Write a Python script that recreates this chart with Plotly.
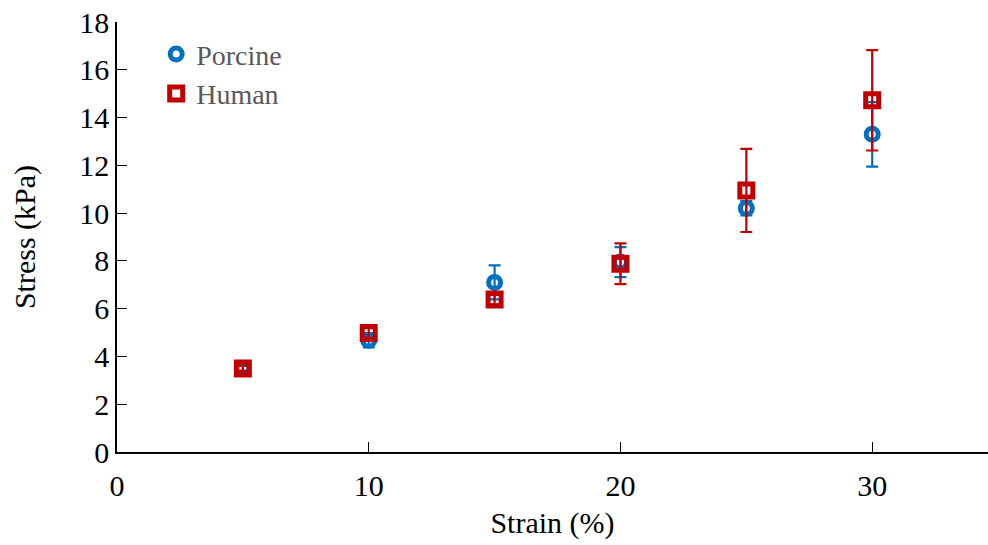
import plotly.graph_objects as go

strain = [5, 10, 15, 20, 25, 30]
porcine = [3.5, 4.68, 7.1, 7.95, 10.2, 13.3]
porcine_err = [0.1, 0.3, 0.71, 0.63, 0.3, 1.35]
human = [3.5, 4.98, 6.38, 7.88, 10.95, 14.72]
human_err = [0.1, 0.2, 0.2, 0.85, 1.74, 2.1]

BLUE = "#0070C0"
RED = "#C00000"
FONT = "'Liberation Serif', 'Times New Roman', Times, serif"
FS = 30

fig = go.Figure()
fig.add_trace(go.Scatter(
    x=strain, y=porcine, mode="markers", name="Porcine",
    marker=dict(symbol="circle-open", size=12, color=BLUE, line=dict(width=5, color=BLUE)),
    error_y=dict(type="data", array=porcine_err, visible=True, color=BLUE, thickness=2.2, width=6),
))
fig.add_trace(go.Scatter(
    x=strain, y=human, mode="markers", name="Human",
    marker=dict(symbol="square-open", size=13, color=RED, line=dict(width=5, color=RED)),
    error_y=dict(type="data", array=human_err, visible=True, color=RED, thickness=2.2, width=6),
))

fig.update_layout(
    width=988, height=545,
    margin=dict(l=117, r=0, t=22, b=93),
    plot_bgcolor="white", paper_bgcolor="white",
    font=dict(family=FONT, size=FS, color="#000000"),
    showlegend=True,
    legend=dict(x=0.045, y=0.983, xanchor="left", yanchor="top",
                font=dict(family=FONT, size=28, color="#595959"),
                bgcolor="rgba(0,0,0,0)", itemwidth=30, tracegroupgap=0),
    xaxis=dict(range=[0, 34.6], tickvals=[0, 10, 20, 30], ticks="inside", ticklen=10,
               tickwidth=1.2, tickcolor="#000", showline=True, linecolor="#000", linewidth=1.5,
               showgrid=False, zeroline=False, ticklabelstandoff=6,
               title=dict(text="Strain (%)", font=dict(family=FONT, size=FS, color="#000"), standoff=11)),
    yaxis=dict(range=[0, 18], tickvals=list(range(0, 19, 2)), ticks="inside", ticklen=10,
               tickwidth=1.2, tickcolor="#000", showline=True, linecolor="#000", linewidth=1.5,
               showgrid=False, zeroline=False,
               title=dict(text="Stress (kPa)", font=dict(family=FONT, size=FS, color="#000"), standoff=35)),
)

fig.write_html("out.html")
